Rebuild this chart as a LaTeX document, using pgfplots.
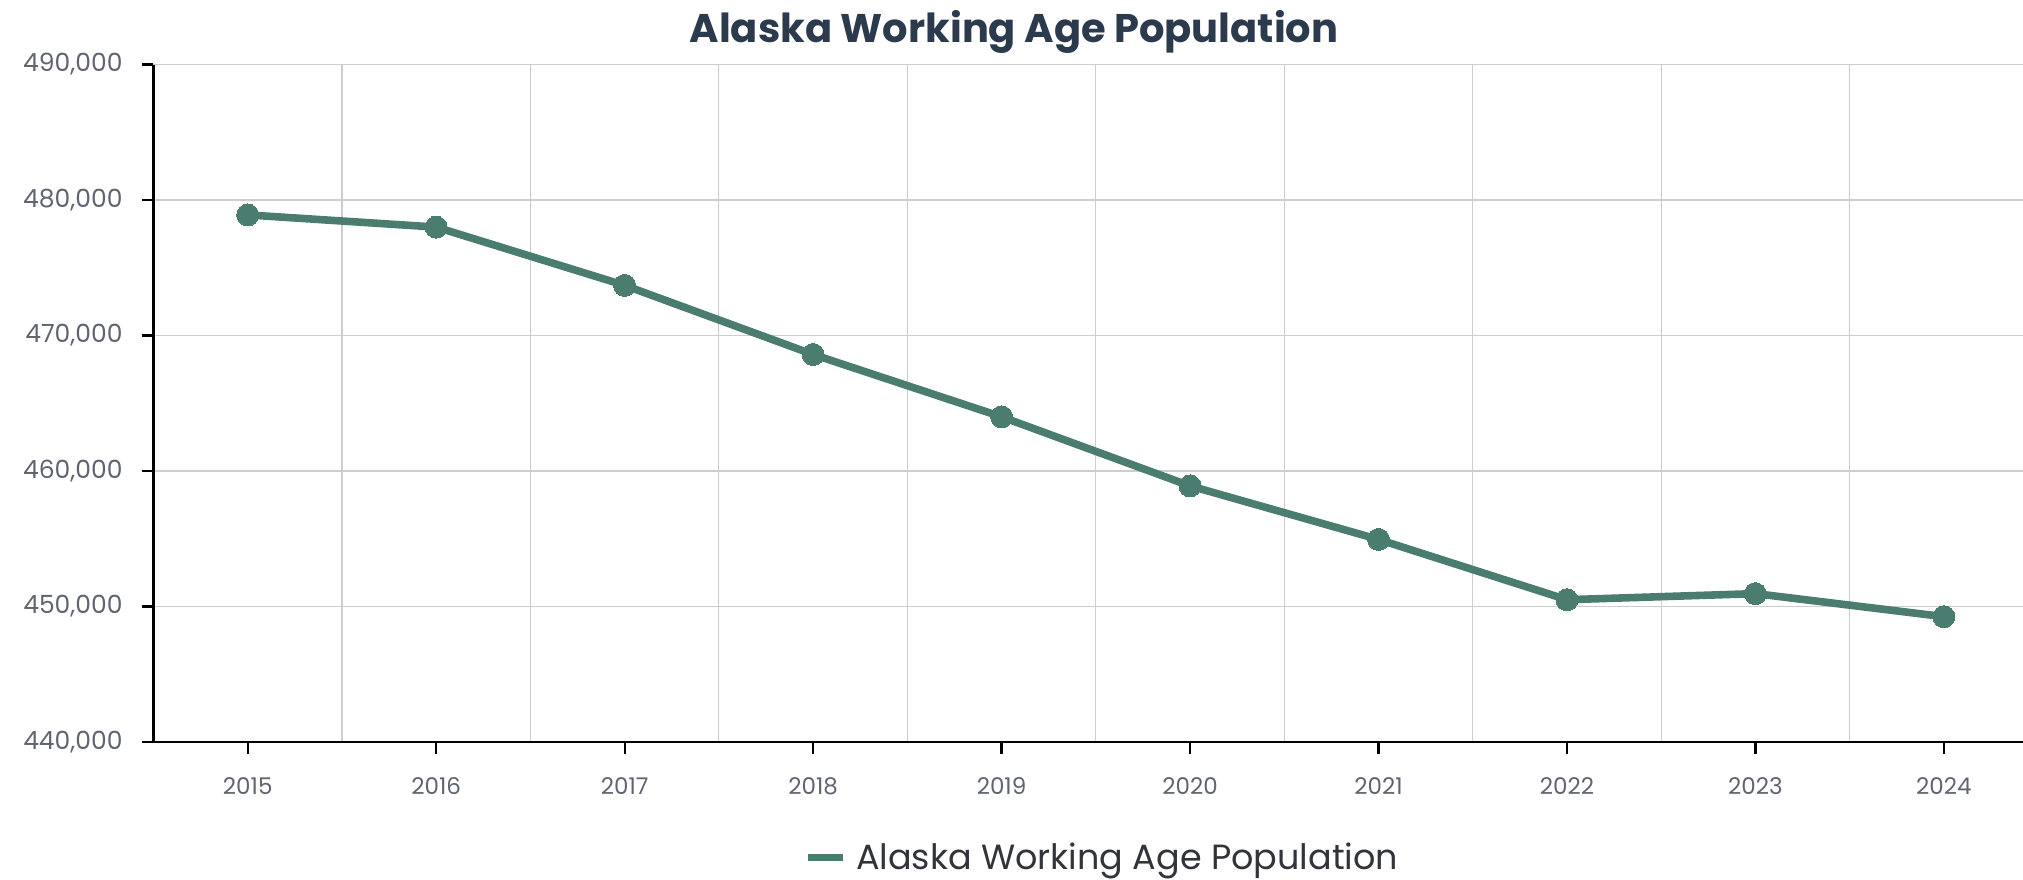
\documentclass[border=0pt]{standalone}
\usepackage{fontspec}
\setmainfont{Poppins}
\usepackage{pgfplots}
\pgfplotsset{compat=1.18}

\definecolor{linegreen}{RGB}{74,124,111}
\definecolor{titlecolor}{RGB}{43,58,76}
\definecolor{tickgray}{RGB}{95,100,112}
\definecolor{legendgray}{RGB}{50,52,58}
\definecolor{gridgray}{RGB}{205,205,205}

\pgfplotstableread{
year pop
2015 478900
2016 478000
2017 473700
2018 468600
2019 464000
2020 458900
2021 454950
2022 450500
2023 450950
2024 449250
}\popdata

\begin{document}
\begin{tikzpicture}
\path[use as bounding box] (-76.75pt,-68.5pt) rectangle (934.75pt,371pt);
\begin{axis}[
  at={(0,0)}, anchor=south west,
  scale only axis, width=934.75pt, height=338.75pt,
  xmin=2014.5, xmax=2024.42, ymin=440000, ymax=490000,
  axis x line*=bottom, axis y line*=left,
  axis line style={black, line width=1.1pt},
  xtick={2015,2016,2017,2018,2019,2020,2021,2022,2023,2024},
  xticklabels={2015,2016,2017,2018,2019,2020,2021,2022,2023,2024},
  minor xtick={2015.5,2016.5,2017.5,2018.5,2019.5,2020.5,2021.5,2022.5,2023.5},
  ytick={440000,450000,460000,470000,480000,490000},
  yticklabels={{440,000},{450,000},{460,000},{470,000},{480,000},{490,000}},
  ymajorgrids=true, xminorgrids=true,
  grid style={color=gridgray, line width=0.6pt},
  minor grid style={color=gridgray, line width=0.6pt},
  tick align=outside, major tick length=6pt, minor tick length=0pt,
  tick style={black, line width=1.1pt},
  scaled ticks=false,
  xticklabel style={font=\fontsize{11.5}{13}\selectfont, text=tickgray, yshift=-8pt},
  yticklabel style={font=\fontsize{12.5}{14}\selectfont, text=tickgray, xshift=-6pt},
  title={Alaska Working Age Population},
  title style={at={(0.4603,1)}, anchor=center, yshift=10.5pt,
    font=\bfseries\fontsize{20}{24}\selectfont, text=titlecolor},
  legend style={draw=none, fill=none, at={(0.508,-0.171)}, anchor=center,
    font=\fontsize{17.5}{21}\selectfont, text=legendgray,
    /tikz/every odd column/.append style={column sep=3pt}},
  legend image code/.code={\draw[#1, mark=none, line width=3.5pt] (0pt,0pt) -- (17.5pt,0pt);},
]
\addplot[color=linegreen, line width=3.8pt, mark=*, mark size=5.5pt,
  mark options={fill=linegreen, draw=linegreen, line width=0pt}]
  table[x=year, y=pop] {\popdata};
\addlegendentry{Alaska Working Age Population}
\end{axis}
\end{tikzpicture}
\end{document}
